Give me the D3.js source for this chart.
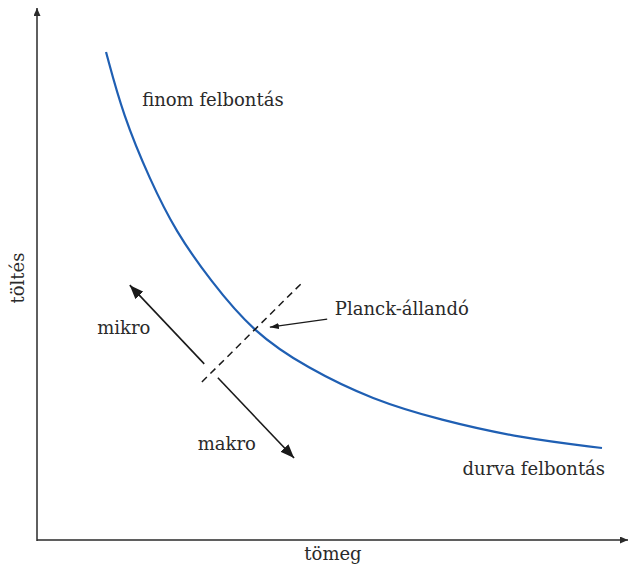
<!DOCTYPE html>
<html><head><meta charset="utf-8">
<script src="https://cdn.jsdelivr.net/npm/d3@7"></script>
<style>body{margin:0;background:#fff}svg{display:block}text{font-family:"DejaVu Serif",serif;fill:#2a2a2a}</style>
</head><body>
<svg id="c" width="628" height="566"></svg>
<script>
// curve: charge (töltés) vs mass (tömeg), axis units 0..100
const curveX = [11.68, 14.55, 19.12, 23.52, 29.27, 36.55, 45.69, 56.85, 68.19, 81.73, 95.6];
const curveY = [91.73, 79.89, 67.67, 57.89, 48.87, 39.10, 32.33, 26.32, 22.56, 19.17, 17.29];
// annotation segments [x1,y1,x2,y2]
const dashedLine = [27.9, 29.7, 44.8, 48.3];
const mikroArrow = [28.3, 33.1, 15.7, 47.9];
const makroArrow = [30.6, 30.5, 43.5, 15.4];
const planckArrow = [49.1, 41.5, 39.4, 40.0];
// labels [text, x, y]
const labels = [
  ["finom felbontás", 17.8, 81.5],
  ["Planck-állandó", 50.4, 42.3],
  ["mikro", 10.2, 38.7],
  ["makro", 27.2, 16.9],
  ["durva felbontás", 72.0, 12.2]
];
const xTitle = "tömeg", yTitle = "töltés";

const svg = d3.select("#c");
const x = d3.scaleLinear().domain([0, 100]).range([37, 628]);
const y = d3.scaleLinear().domain([0, 100]).range([540, 8]);

const defs = svg.append("defs");
function marker(id, len, wid, color) {
  defs.append("marker").attr("id", id).attr("markerUnits", "userSpaceOnUse")
    .attr("viewBox", `0 0 ${len} ${wid}`).attr("refX", len).attr("refY", wid / 2)
    .attr("markerWidth", len).attr("markerHeight", wid).attr("orient", "auto")
    .append("path").attr("d", `M0,0L${len},${wid / 2}L0,${wid}Z`).attr("fill", color);
}
marker("axisHead", 8, 7, "#2a2a2a");
marker("bigHead", 14, 11, "#1a1a1a");
marker("smallHead", 9, 6, "#1a1a1a");

// axes
svg.append("line").attr("x1", x(0)).attr("y1", y(0) + 1).attr("x2", x(0)).attr("y2", y(100))
  .attr("stroke", "#2a2a2a").attr("stroke-width", 1.5).attr("marker-end", "url(#axisHead)");
svg.append("line").attr("x1", x(0)).attr("y1", y(0)).attr("x2", x(100)).attr("y2", y(0))
  .attr("stroke", "#2a2a2a").attr("stroke-width", 1.5).attr("marker-end", "url(#axisHead)");

// curve
const pts = curveX.map((d, i) => [d, curveY[i]]);
svg.append("path").datum(pts)
  .attr("d", d3.line().x(d => x(d[0])).y(d => y(d[1])).curve(d3.curveBasis))
  .attr("fill", "none").attr("stroke", "#1f5fb3").attr("stroke-width", 2.2);

function seg(s, opts) {
  const l = svg.append("line").attr("x1", x(s[0])).attr("y1", y(s[1])).attr("x2", x(s[2])).attr("y2", y(s[3]))
    .attr("stroke", "#1a1a1a").attr("stroke-width", opts.w || 1.5);
  if (opts.dash) l.attr("stroke-dasharray", opts.dash);
  if (opts.head) l.attr("marker-end", `url(#${opts.head})`);
}
seg(dashedLine, {dash: "7,5", w: 1.5});
seg(mikroArrow, {head: "bigHead", w: 1.6});
seg(makroArrow, {head: "bigHead", w: 1.6});
seg(planckArrow, {head: "smallHead", w: 1.3});

svg.selectAll("text.lab").data(labels).join("text").attr("class", "lab")
  .attr("x", d => x(d[1])).attr("y", d => y(d[2])).attr("font-size", 18).text(d => d[0]);

svg.append("text").attr("x", 333).attr("y", 560).attr("text-anchor", "middle").attr("font-size", 18).text(xTitle);
svg.append("text").attr("transform", "translate(24,278) rotate(-90)").attr("text-anchor", "middle")
  .attr("font-size", 18).text(yTitle);
</script>
</body></html>
